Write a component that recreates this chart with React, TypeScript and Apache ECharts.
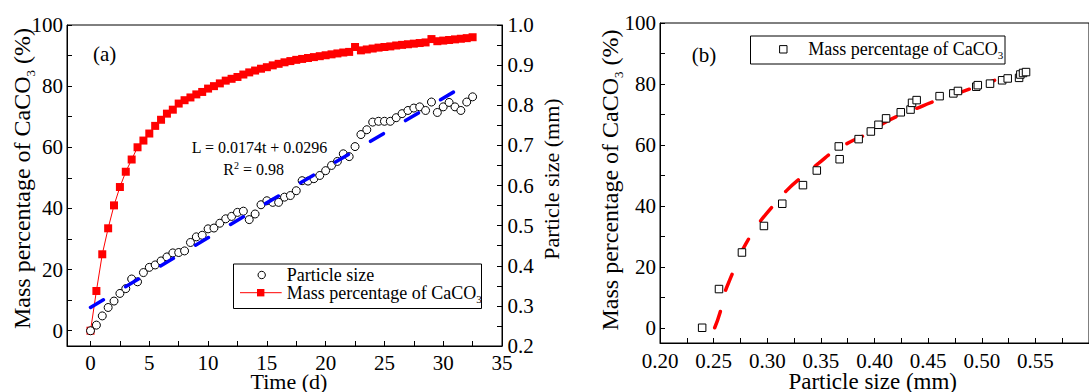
import React, { useEffect, useRef } from "react";
import * as echarts from "echarts";

// ---------- Panel (a) data ----------
const timeDays = [
  0, 0.5, 1, 1.5, 2, 2.5, 3, 3.5, 4, 4.5, 5, 5.5, 6, 6.5, 7, 7.5, 8, 8.5, 9, 9.5,
  10, 10.5, 11, 11.5, 12, 12.5, 13, 13.5, 14, 14.5, 15, 15.5, 16, 16.5, 17, 17.5,
  18, 18.5, 19, 19.5, 20, 20.5, 21, 21.5, 22, 22.5, 23, 23.5, 24, 24.5, 25, 25.5,
  26, 26.5, 27, 27.5, 28, 28.5, 29, 29.5, 30, 30.5, 31, 31.5, 32, 32.5,
];
const massPercentA = [
  0, 13, 25, 33.5, 41, 47, 52, 56, 60, 62.2, 64.5, 67, 69, 71, 72.3, 74.3, 75.4, 76.3, 77.3, 78.1,
  79.2, 80, 80.9, 81.8, 82.4, 83, 83.8, 84.5, 85.1, 85.7, 86.2, 86.8, 87.3, 87.8, 88.2, 88.6,
  88.9, 89.2, 89.5, 89.8, 90.1, 90.4, 90.7, 91.0, 91.2, 92.8, 91.7, 92.0, 92.3, 92.6, 92.8, 93.0,
  93.3, 93.5, 93.7, 93.9, 94.1, 94.3, 95.4, 94.7, 94.9, 95.1, 95.3, 95.5, 95.7, 96.0,
];
const particleSizeMm = [
  0.238, 0.252, 0.275, 0.296, 0.312, 0.331, 0.343, 0.367, 0.36, 0.383, 0.396, 0.402, 0.412, 0.422, 0.432, 0.433, 0.437, 0.458, 0.472, 0.476,
  0.492, 0.494, 0.506, 0.517, 0.523, 0.533, 0.536, 0.515, 0.529, 0.552, 0.562, 0.558, 0.558, 0.571, 0.575, 0.587,
  0.612, 0.611, 0.617, 0.625, 0.637, 0.65, 0.66, 0.679, 0.672, 0.697, 0.727, 0.739, 0.758, 0.76, 0.76, 0.76,
  0.769, 0.779, 0.787, 0.793, 0.796, 0.787, 0.808, 0.782, 0.796, 0.807, 0.796, 0.787, 0.808, 0.821,
];
const fitLineT = [0, 31];
const fitLineL = [0.296, 0.835];

// ---------- Panel (b) data ----------
const sizeB = [
  0.2393, 0.255, 0.2764, 0.2969, 0.314, 0.3333, 0.3462, 0.3667, 0.3675, 0.3852, 0.3966, 0.4037,
  0.4108, 0.4245, 0.4336, 0.435, 0.4393, 0.4607, 0.4735, 0.4778, 0.4949, 0.4963, 0.5077, 0.519,
  0.5242, 0.5348, 0.536, 0.5385, 0.5413,
];
const massB = [
  0, 12.7, 24.7, 33.4, 40.7, 46.8, 51.6, 59.5, 55.3, 61.9, 64.4, 66.6,
  68.7, 70.7, 71.6, 73.8, 74.7, 76.0, 76.9, 77.7, 79.1, 79.6, 80.1, 81.2,
  81.8, 82.0, 83.1, 83.6, 83.9,
];
const fitCurveSizeB = [
  0.251, 0.256, 0.26, 0.266, 0.273, 0.28, 0.291, 0.303, 0.318, 0.333, 0.348, 0.362, 0.378,
  0.394, 0.408, 0.422, 0.438, 0.455, 0.468, 0.482, 0.4985, 0.512,
];
const fitCurveMassB = [
  0, 5, 11, 16.5, 22.5, 27.5, 33.7, 39, 45, 49.7, 54, 57.9, 61.1,
  63.8, 67, 69.5, 71.8, 74.2, 75.7, 77.5, 79.5, 81.2,
];

// ---------- Tick values ----------
const xLabelsA = [0, 5, 10, 15, 20, 25, 30, 35];
const xTicksA = [0, 2.5, 5, 7.5, 10, 12.5, 15, 17.5, 20, 22.5, 25, 27.5, 30, 32.5, 35];
const yLabelsA = [0, 20, 40, 60, 80, 100];
const yTicksA = [0, 10, 20, 30, 40, 50, 60, 70, 80, 90, 100];
const y2Labels = [0.2, 0.3, 0.4, 0.5, 0.6, 0.7, 0.8, 0.9, 1.0];
const y2Ticks = [0.2, 0.25, 0.3, 0.35, 0.4, 0.45, 0.5, 0.55, 0.6, 0.65, 0.7, 0.75, 0.8, 0.85, 0.9, 0.95, 1.0];
const xLabelsB = [0.2, 0.25, 0.3, 0.35, 0.4, 0.45, 0.5, 0.55];
const xTicksB = [0.2, 0.225, 0.25, 0.275, 0.3, 0.325, 0.35, 0.375, 0.4, 0.425, 0.45, 0.475, 0.5, 0.525, 0.55, 0.575];
const yLabelsB = [0, 20, 40, 60, 80, 100];
const yTicksB = [0, 10, 20, 30, 40, 50, 60, 70, 80, 90, 100];

const FONT = "serif";
const BLACK = "#000";

function axisParts(ticks: number[]) {
  return {
    axisLine: { show: true, onZero: false, lineStyle: { color: BLACK, width: 1 } },
    axisTick: { show: true, inside: true, length: 5, customValues: ticks, lineStyle: { color: BLACK, width: 1 } },
    axisLabel: { show: false },
    splitLine: { show: false },
  };
}

function txt(x: number, y: number, text: string, size: number, align: string, va: string, extra: any = {}) {
  return {
    type: "text", x, y, silent: true, z: 20,
    style: { text, fontFamily: FONT, fontSize: size, fill: BLACK, align, verticalAlign: va, ...extra },
  };
}

function makeBaseGraphic(): any[] {
  const subRich = { sub: { fontSize: 11, lineHeight: 11, verticalAlign: "bottom", fontFamily: FONT, fill: BLACK } };
  return [
    txt(93, 53.5, "(a)", 21, "left", "middle"),
    txt(691.7, 55, "(b)", 21, "left", "middle"),
    txt(191.7, 147, "L = 0.0174t + 0.0296", 16, "left", "middle"),
    txt(223.3, 169, "R{sup|2} = 0.98", 16, "left", "middle", {
      lineHeight: 18,
      rich: { sup: { fontSize: 10, lineHeight: 10, verticalAlign: "top", fontFamily: FONT, fill: BLACK } },
    }),
    // legend (a)
    { type: "rect", shape: { x: 233.5, y: 264, width: 248, height: 44.5 }, style: { fill: "#fff", stroke: BLACK, lineWidth: 1 }, z: 10 },
    { type: "circle", shape: { cx: 261.7, cy: 275, r: 3.7 }, style: { fill: "#fff", stroke: BLACK, lineWidth: 1 }, z: 11 },
    { type: "line", shape: { x1: 240, y1: 292.7, x2: 281.7, y2: 292.7 }, style: { stroke: "#ff0000", lineWidth: 1 }, z: 11 },
    { type: "rect", shape: { x: 257, y: 289, width: 7.4, height: 7.4 }, style: { fill: "#ff0000" }, z: 12 },
    txt(286.7, 274.5, "Particle size", 18, "left", "middle"),
    txt(286.7, 293, "Mass percentage of CaCO{sub|3}", 18, "left", "middle", { lineHeight: 22, rich: subRich }),
    // legend (b)
    { type: "rect", shape: { x: 750.5, y: 36, width: 254.5, height: 28 }, style: { fill: "#fff", stroke: BLACK, lineWidth: 1 }, z: 10 },
    { type: "rect", shape: { x: 779.6, y: 45.6, width: 7.4, height: 7.4 }, style: { fill: "#fff", stroke: BLACK, lineWidth: 1 }, z: 11 },
    txt(808.3, 49, "Mass percentage of CaCO{sub|3}", 18, "left", "middle", { lineHeight: 22, rich: subRich }),
  ];
}

function makeOption(graphic: any[]): any {
  const massLine = timeDays.map((t, i) => [t, massPercentA[i]]);
  const sizePts = timeDays.map((t, i) => [t, particleSizeMm[i]]);
  const fitLine = fitLineT.map((t, i) => [t, fitLineL[i]]);
  const ptsB = sizeB.map((s, i) => [s, massB[i]]);
  const fitB = fitCurveSizeB.map((s, i) => [s, fitCurveMassB[i]]);
  return {
    animation: false,
    backgroundColor: "#fff",
    textStyle: { fontFamily: FONT, color: BLACK },
    grid: [
      { left: 67, top: 25, width: 435, height: 321, show: true, borderColor: BLACK, borderWidth: 1, backgroundColor: "transparent" },
      { left: 660, top: 23, width: 468, height: 320, show: true, borderColor: BLACK, borderWidth: 1, backgroundColor: "transparent" },
    ],
    xAxis: [
      { type: "value", gridIndex: 0, min: -2, max: 35, ...axisParts(xTicksA) },
      { type: "value", gridIndex: 1, min: 0.2, max: 0.6, ...axisParts(xTicksB) },
    ],
    yAxis: [
      { type: "value", gridIndex: 0, min: -5, max: 100, ...axisParts(yTicksA) },
      { type: "value", gridIndex: 0, position: "right", min: 0.2, max: 1.0, ...axisParts(y2Ticks) },
      { type: "value", gridIndex: 1, min: -5, max: 100, ...axisParts(yTicksB) },
    ],
    series: [
      {
        name: "Mass percentage of CaCO3", type: "line", xAxisIndex: 0, yAxisIndex: 0, data: massLine,
        symbol: "rect", symbolSize: 8, showSymbol: true, z: 2,
        itemStyle: { color: "#ff0000" }, lineStyle: { color: "#ff0000", width: 1 },
      },
      {
        name: "Particle size", type: "scatter", xAxisIndex: 0, yAxisIndex: 1, data: sizePts,
        symbol: "circle", symbolSize: 8, z: 3,
        itemStyle: { color: "#fff", borderColor: BLACK, borderWidth: 1, opacity: 1 },
      },
      {
        name: "Linear fit", type: "line", xAxisIndex: 0, yAxisIndex: 1, data: fitLine,
        showSymbol: false, symbol: "none", z: 4,
        lineStyle: { color: "#0000ff", width: 3.5, type: [15, 25.7], cap: "round" },
      },
      {
        name: "Mass percentage of CaCO3 (b)", type: "scatter", xAxisIndex: 1, yAxisIndex: 2, data: ptsB,
        symbol: "rect", symbolSize: 7.5, z: 3,
        itemStyle: { color: "#fff", borderColor: BLACK, borderWidth: 1, opacity: 1 },
      },
      {
        name: "Fit (b)", type: "line", xAxisIndex: 1, yAxisIndex: 2, data: fitB,
        showSymbol: false, symbol: "none", smooth: true, z: 2,
        lineStyle: { color: "#ff0000", width: 3.5, type: [17, 22], cap: "round" },
      },
    ],
    graphic,
  };
}

export default function App() {
  const ref = useRef<HTMLDivElement>(null);
  useEffect(() => {
    const el = ref.current;
    if (!el) return;

    // 1) probe instance: lay out the axes to read their pixel positions through the axis scales
    const probe = echarts.init(el, undefined, { renderer: "svg" });
    probe.setOption(makeOption(makeBaseGraphic()));
    const px = (i: number, v: number) => probe.convertToPixel({ xAxisIndex: i } as any, v) as unknown as number;
    const py = (i: number, v: number) => probe.convertToPixel({ yAxisIndex: i } as any, v) as unknown as number;
    const aBottom = py(0, -5);
    const aTop = py(0, 100);
    const aLeft = px(0, -2);
    const aRight = px(0, 35);
    const bBottom = py(2, -5);
    const bTop = py(2, 100);
    const bLeft = px(1, 0.2);

    const axisTexts: any[] = [];
    const lh = { lineHeight: 17 };
    xLabelsA.forEach((v) => axisTexts.push(txt(px(0, v), aBottom + 8.5, String(v), 21, "center", "top", lh)));
    yLabelsA.forEach((v) => axisTexts.push(txt(aLeft - 4, py(0, v), String(v), 21, "right", "middle", lh)));
    y2Labels.forEach((v) => axisTexts.push(txt(aRight + 5.5, py(1, v), v.toFixed(1), 21, "left", "middle", lh)));
    xLabelsB.forEach((v) => axisTexts.push(txt(px(1, v), bBottom + 9.5, v.toFixed(2), 21, "center", "top", lh)));
    yLabelsB.forEach((v) => axisTexts.push(txt(bLeft - 4, py(2, v), String(v), 21, "right", "middle", lh)));

    const titleRich = { sub: { fontSize: 13, lineHeight: 13, verticalAlign: "bottom", fontFamily: FONT, fill: BLACK } };
    axisTexts.push(txt((aLeft + aRight) / 2 + 4.5, aBottom + 35, "Time (d)", 22, "center", "middle", { lineHeight: 17 }));
    axisTexts.push(txt(872.7, bBottom + 38.5, "Particle size (mm)", 23, "center", "middle", { lineHeight: 17 }));
    axisTexts.push({
      ...txt(aLeft - 45.3, (aTop + aBottom) / 2 - 7, "Mass percentage of CaCO{sub|3} (%)", 24, "center", "middle", { lineHeight: 30, rich: titleRich }),
      rotation: Math.PI / 2,
    });
    axisTexts.push({
      ...txt(aRight + 49, (aTop + aBottom) / 2 - 6.5, "Particle size (mm)", 22, "center", "middle"),
      rotation: Math.PI / 2,
    });
    axisTexts.push({
      ...txt(bLeft - 50, (bTop + bBottom) / 2 - 3, "Mass percentage of CaCO{sub|3} (%)", 24, "center", "middle", { lineHeight: 30, rich: titleRich }),
      rotation: Math.PI / 2,
    });
    probe.dispose();

    // 2) final instance: everything drawn in a single first render
    const chart = echarts.init(el, undefined, { renderer: "svg" });
    chart.setOption(makeOption(makeBaseGraphic().concat(axisTexts)));
    return () => chart.dispose();
  }, []);
  return (
    <div style={{ position: "fixed", left: 0, top: 0, width: 1089, height: 392, overflow: "hidden", background: "#fff" }}>
      <div ref={ref} style={{ width: 1089, height: 392 }} />
    </div>
  );
}
